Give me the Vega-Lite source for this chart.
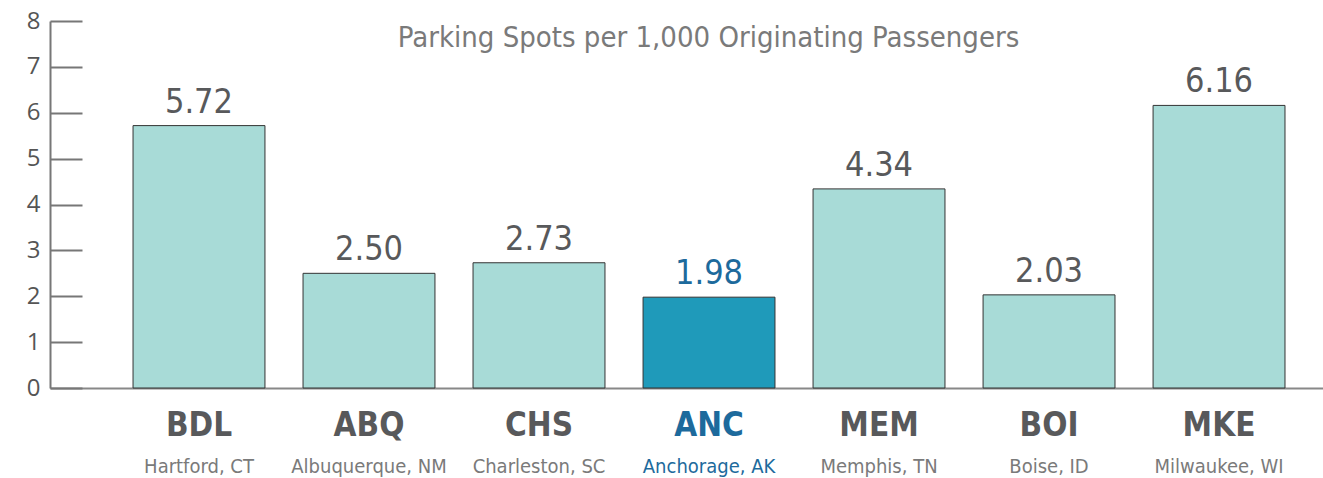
{
  "$schema": "https://vega.github.io/schema/vega-lite/v6.json",
  "width": 1273,
  "height": 367,
  "autosize": "none",
  "padding": {"left": 50, "top": 21, "right": 0, "bottom": 90},
  "config": {"view": {"stroke": null}},
  "title": {
    "text": "Parking Spots per 1,000 Originating Passengers",
    "anchor": "middle",
    "frame": "group",
    "font": "DejaVu Sans Condensed, sans-serif",
    "fontSize": 29,
    "fontWeight": "normal",
    "color": "#7a7a7a",
    "baseline": "alphabetic",
    "dy": 67,
    "dx": 22,
    "offset": 0
  },
  "data": {
    "values": [
      {"code": "BDL", "city": "Hartford, CT", "value": 5.72},
      {"code": "ABQ", "city": "Albuquerque, NM", "value": 2.50},
      {"code": "CHS", "city": "Charleston, SC", "value": 2.73},
      {"code": "ANC", "city": "Anchorage, AK", "value": 1.98},
      {"code": "MEM", "city": "Memphis, TN", "value": 4.34},
      {"code": "BOI", "city": "Boise, ID", "value": 2.03},
      {"code": "MKE", "city": "Milwaukee, WI", "value": 6.16}
    ]
  },
  "encoding": {
    "x": {
      "field": "code",
      "type": "nominal",
      "sort": null,
      "scale": {"paddingInner": 0.224, "paddingOuter": 0.356, "align": 0.686}
    },
    "y": {
      "field": "value",
      "type": "quantitative",
      "scale": {"domain": [0, 8]},
      "axis": {
        "title": null,
        "values": [0, 1, 2, 3, 4, 5, 6, 7, 8],
        "grid": false,
        "domainColor": "#777777",
        "domainWidth": 2,
        "tickColor": "#777777",
        "tickWidth": 2,
        "tickSize": -32,
        "labelPadding": 42,
        "labelFont": "Open Sans",
        "labelFontSize": 24,
        "labelColor": "#555555"
      }
    }
  },
  "layer": [
    {
      "mark": {"type": "bar", "stroke": "#333333", "strokeWidth": 1},
      "encoding": {
        "x": {
          "field": "code",
          "type": "nominal",
          "sort": null,
          "axis": {
            "title": null,
            "orient": "bottom",
            "ticks": false,
            "domainColor": "#888888",
            "domainWidth": 2,
            "labelAngle": 0,
            "labelFont": "DejaVu Sans Condensed, sans-serif",
            "labelFontWeight": "bold",
            "labelFontSize": 33,
            "labelBaseline": "alphabetic",
            "labelPadding": 47,
            "labelColor": {"condition": {"test": "datum.value === 'ANC'", "value": "#1d6a9c"}, "value": "#58595b"}
          }
        },
        "color": {
          "condition": {"test": "datum.code === 'ANC'", "value": "#1f9aba"},
          "value": "#a8dbd7"
        }
      }
    },
    {
      "mark": {
        "type": "text",
        "baseline": "alphabetic",
        "dy": -13,
        "font": "DejaVu Sans Condensed, sans-serif",
        "fontSize": 34
      },
      "encoding": {
        "x": {
          "field": "code",
          "type": "nominal",
          "sort": null,
          "axis": {
            "title": null,
            "orient": "bottom",
            "domain": false,
            "ticks": false,
            "labelAngle": 0,
            "labelExpr": "{'BDL':'Hartford, CT','ABQ':'Albuquerque, NM','CHS':'Charleston, SC','ANC':'Anchorage, AK','MEM':'Memphis, TN','BOI':'Boise, ID','MKE':'Milwaukee, WI'}[datum.value]",
            "labelFont": "DejaVu Sans Condensed, sans-serif",
            "labelFontSize": 20,
            "labelBaseline": "alphabetic",
            "labelPadding": 84,
            "labelColor": {"condition": {"test": "datum.value === 'ANC'", "value": "#1d6a9c"}, "value": "#7a7a7a"}
          }
        },
        "text": {"field": "value", "type": "quantitative", "format": ".2f"},
        "color": {
          "condition": {"test": "datum.code === 'ANC'", "value": "#1d6a9c"},
          "value": "#58595b"
        }
      }
    }
  ],
  "resolve": {"axis": {"x": "independent"}}
}
